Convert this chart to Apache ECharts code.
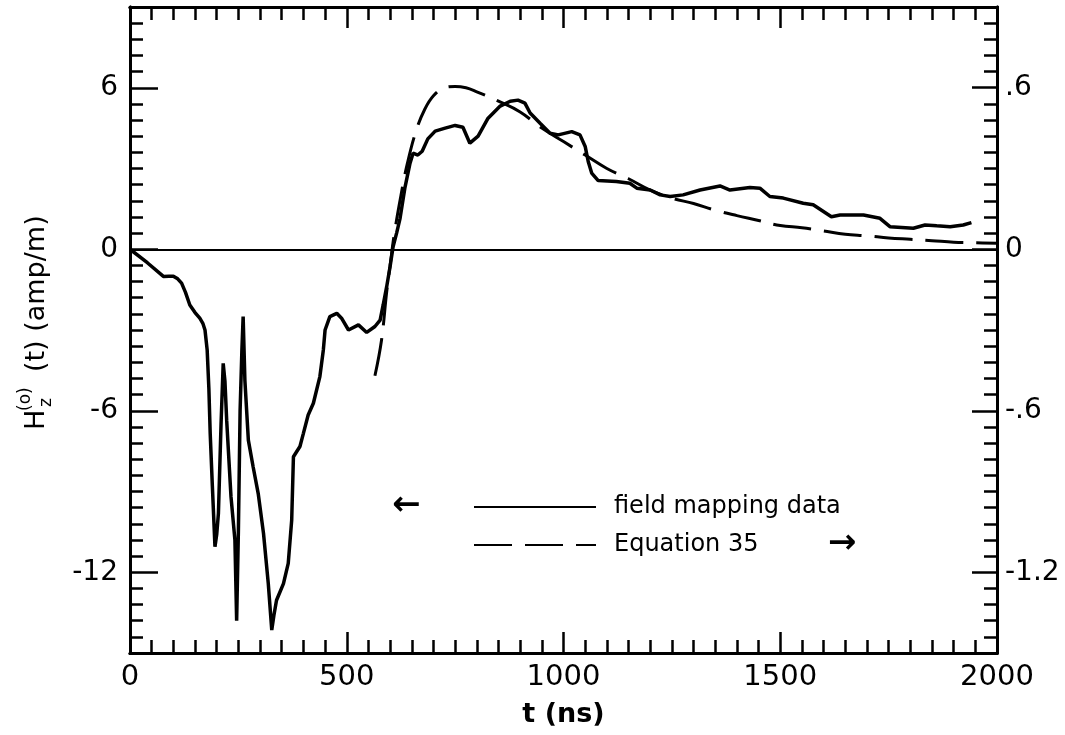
<!DOCTYPE html>
<html>
<head>
<meta charset="utf-8">
<title>H_z(t) field mapping</title>
<script src="https://cdn.jsdelivr.net/npm/echarts@6.0.0/dist/echarts.min.js"></script>
<style>
  html, body { margin: 0; padding: 0; background: #fff; }
  #chart { width: 1065px; height: 735px; }
</style>
</head>
<body>
<div id="chart"></div>
<script>
// field mapping data (left axis, amp/m)
var solidT = [0, 40, 77, 90, 100, 110, 119, 128, 138, 150,
  161, 168, 173, 178, 182, 185, 190, 196, 200, 204,
  210, 215, 219, 223, 233, 242, 246, 250, 254, 258,
  261, 265, 273, 284, 296, 308, 319, 327, 332, 338,
  354, 365, 373, 377, 392, 400, 411, 423, 438, 446,
  450, 461, 477, 488, 504, 527, 546, 565, 577, 584,
  592, 600, 607, 615, 623, 634, 646, 653, 664, 674,
  687, 704, 727, 750, 768, 784, 803, 826, 854, 877,
  895, 911, 923, 946, 969, 988, 1019, 1038, 1050, 1057,
  1065, 1080, 1122, 1153, 1169, 1200, 1223, 1246, 1276, 1315,
  1361, 1384, 1430, 1453, 1476, 1507, 1553, 1576, 1618, 1638,
  1692, 1730, 1753, 1807, 1834, 1861, 1892, 1922, 1941];
var solidV = [0, -0.5, -1.01, -1.0, -1.0, -1.1, -1.26, -1.6, -2.07, -2.35,
  -2.56, -2.75, -3.0, -3.74, -5.2, -6.84, -8.8, -11.05, -10.6, -9.8,
  -6.5, -4.24, -4.9, -6.35, -9.2, -10.8, -13.8, -10.5, -5.97, -3.8,
  -2.5, -4.86, -7.09, -8.08, -9.1, -10.56, -12.42, -14.15, -13.6, -13.04,
  -12.42, -11.67, -10.06, -7.71, -7.33, -6.84, -6.16, -5.72, -4.73, -3.74,
  -3.0, -2.5, -2.38, -2.56, -3.0, -2.81, -3.09, -2.87, -2.63, -2.07,
  -1.4, -0.64, 0.1, 0.6, 1.15, 2.27, 3.2, 3.57, 3.5, 3.64,
  4.1, 4.39, 4.5, 4.6, 4.53, 3.94, 4.2, 4.87, 5.32, 5.5,
  5.54, 5.43, 5.06, 4.68, 4.31, 4.25, 4.37, 4.25, 3.82, 3.26,
  2.83, 2.55, 2.52, 2.45, 2.27, 2.2, 2.02, 1.96, 2.02, 2.2,
  2.35, 2.2, 2.29, 2.27, 1.96, 1.9, 1.71, 1.65, 1.21, 1.27,
  1.27, 1.15, 0.84, 0.78, 0.9, 0.87, 0.84, 0.9, 0.99];

// Equation 35 (right axis)
var eqT = [565, 580, 592, 600, 610, 625, 640, 660, 680, 700,
  725, 750, 775, 800, 850, 900, 950, 1000, 1050, 1100,
  1150, 1200, 1250, 1300, 1350, 1400, 1450, 1500, 1550, 1600,
  1650, 1700, 1750, 1800, 1850, 1900, 1950, 2000];
var eqV = [-0.47, -0.34, -0.16, -0.06, 0.06, 0.2, 0.32, 0.44, 0.52, 0.57,
  0.6, 0.605, 0.6, 0.585, 0.55, 0.51, 0.45, 0.4, 0.35, 0.3,
  0.262, 0.22, 0.19, 0.17, 0.145, 0.125, 0.107, 0.088, 0.08, 0.068,
  0.056, 0.05, 0.042, 0.037, 0.032, 0.026, 0.024, 0.022];

var leftLabels = [-12, -6, 0, 6];
var rightLabels = [-1.2, -0.6, 0, 0.6];

var chart = echarts.init(document.getElementById('chart'));

var font = 'DejaVu Sans';
var tickStyle = { color: '#000', width: 2.5 };
var lineStyle = { color: '#000', width: 3 };

var option = {
  animation: false,
  backgroundColor: '#fff',
  grid: { left: 130, right: 68, top: 7, bottom: 82, outerBoundsMode: 'none' },
  xAxis: [
    {
      type: 'value', position: 'bottom', min: 0, max: 2000, interval: 50,
      axisLine: { onZero: false, lineStyle: lineStyle },
      axisTick: { inside: true, length: 13, lineStyle: tickStyle },
      axisLabel: { show: false }, splitLine: { show: false }
    },
    {
      type: 'value', position: 'bottom', min: 0, max: 2000, interval: 500,
      name: 't (ns)', nameLocation: 'middle', nameGap: 48,
      nameTextStyle: { color: '#000', fontFamily: font, fontSize: 27, fontWeight: 'bold' },
      axisLine: { onZero: false, lineStyle: lineStyle },
      axisTick: { inside: true, length: 21, lineStyle: tickStyle },
      axisLabel: {
        color: '#000', fontFamily: font, fontSize: 29, margin: 10,
        formatter: function (v) { return String(v); }
      },
      splitLine: { show: false }
    },
    {
      type: 'value', position: 'top', min: 0, max: 2000, interval: 50,
      axisLine: { onZero: false, lineStyle: lineStyle },
      axisTick: { inside: true, length: 13, lineStyle: tickStyle },
      axisLabel: { show: false }, splitLine: { show: false }
    },
    {
      type: 'value', position: 'top', min: 0, max: 2000, interval: 500,
      axisLine: { onZero: false, lineStyle: lineStyle },
      axisTick: { inside: true, length: 21, lineStyle: tickStyle },
      axisLabel: { show: false }, splitLine: { show: false }
    }
  ],
  yAxis: [
    {
      type: 'value', position: 'left', min: -15, max: 9, interval: 0.6,
      axisLine: { show: true, onZero: false, lineStyle: lineStyle },
      axisTick: { inside: true, length: 13, lineStyle: tickStyle },
      axisLabel: { show: false }, splitLine: { show: false }
    },
    {
      type: 'value', position: 'left', min: -15, max: 9, interval: 3,
      axisLine: { show: true, onZero: false, lineStyle: lineStyle },
      axisTick: { inside: true, length: 28, lineStyle: tickStyle, customValues: leftLabels },
      axisLabel: { color: '#000', fontFamily: font, fontSize: 28, margin: 12, customValues: leftLabels },
      splitLine: { show: false }
    },
    {
      type: 'value', position: 'right', min: -1.5, max: 0.9, interval: 0.06,
      axisLine: { show: true, onZero: false, lineStyle: lineStyle },
      axisTick: { inside: true, length: 13, lineStyle: tickStyle },
      axisLabel: { show: false }, splitLine: { show: false }
    },
    {
      type: 'value', position: 'right', min: -1.5, max: 0.9, interval: 0.3,
      axisLine: { show: true, onZero: false, lineStyle: lineStyle },
      axisTick: { inside: true, length: 25, lineStyle: tickStyle, customValues: rightLabels },
      axisLabel: {
        color: '#000', fontFamily: font, fontSize: 28, margin: 8, customValues: rightLabels,
        formatter: function (v) {
          if (Math.abs(v) < 1e-9) return '0';
          return String(Math.round(v * 10) / 10).replace('0.', '.');
        }
      },
      splitLine: { show: false }
    }
  ],
  legend: {
    orient: 'vertical', left: 468, top: 490,
    itemWidth: 122, itemHeight: 20, itemGap: 14,
    itemStyle: { color: 'rgba(0,0,0,0)', borderWidth: 0 },
    textStyle: { color: '#000', fontFamily: font, fontSize: 24, padding: [0, 0, 0, 13] },
    data: ['field mapping data', 'Equation 35']
  },
  // y-axis title with stacked sub/superscript, and the legend arrows
  graphic: [
    {
      type: 'group', x: 50, y: 430, rotation: Math.PI / 2,
      children: [
        { type: 'text', x: 0, y: 0, style: { text: 'H', font: '27px "DejaVu Sans"', fill: '#000', verticalAlign: 'bottom' } },
        { type: 'text', x: 23, y: 5, style: { text: 'z', font: '17px "DejaVu Sans"', fill: '#000', verticalAlign: 'bottom' } },
        { type: 'text', x: 19, y: -16, style: { text: '(o)', font: '17px "DejaVu Sans"', fill: '#000', verticalAlign: 'bottom' } },
        { type: 'text', x: 58, y: 0, style: { text: '(t) (amp/m)', font: '27px "DejaVu Sans"', fill: '#000', verticalAlign: 'bottom' } }
      ]
    },
    { type: 'text', x: 392, y: 506, style: { text: '\u2190', font: 'bold 34px "DejaVu Sans"', fill: '#000', verticalAlign: 'middle' } },
    { type: 'text', x: 828, y: 544, style: { text: '\u2192', font: 'bold 34px "DejaVu Sans"', fill: '#000', verticalAlign: 'middle' } }
  ],
  series: [
    {
      name: 'field mapping data', type: 'line', xAxisIndex: 1, yAxisIndex: 1,
      symbol: 'none', lineStyle: { color: '#000', width: 3.5 }, itemStyle: { color: '#000' },
      data: solidT.map(function (t, i) { return [t, solidV[i]]; }),
      markLine: {
        silent: true, symbol: 'none', label: { show: false },
        lineStyle: { color: '#000', width: 2, type: 'solid' },
        data: [{ yAxis: 0 }]
      }
    },
    {
      name: 'Equation 35', type: 'line', xAxisIndex: 1, yAxisIndex: 3,
      symbol: 'none', smooth: 0.4,
      lineStyle: { color: '#000', width: 3, type: [38, 13] }, itemStyle: { color: '#000' },
      data: eqT.map(function (t, i) { return [t, eqV[i]]; })
    }
  ]
};

chart.setOption(option);
</script>
</body>
</html>
